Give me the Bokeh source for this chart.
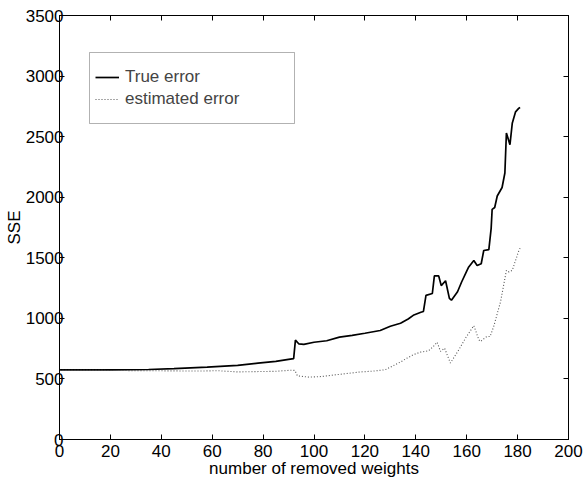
from bokeh.plotting import figure
from bokeh.models import (LinearAxis, Range1d, Legend, LegendItem, BoxAnnotation,
                          FixedTicker)
from bokeh.embed import file_html
from bokeh.resources import INLINE

# ---- data ----
removed_true = [0, 20, 35, 45, 58, 70, 78, 85, 90, 92, 92.7, 94, 96, 100, 105, 110, 115,
                120, 126, 130, 134, 137, 139, 142, 143, 144, 146.5, 147.3, 149, 150,
                151.7, 153.2, 154, 156.4, 158, 160, 160.8, 162.8, 164.1, 165.7, 166.7,
                168.7, 169.6, 170, 171, 172, 173.9, 175, 175.6, 177, 177.9, 179.2,
                180.5, 181]
sse_true = [575, 575, 578, 585, 598, 612, 630, 645, 662, 668, 820, 790, 785, 803, 815,
            845, 860, 877, 900, 935, 960, 995, 1025, 1050, 1057, 1190, 1205, 1350, 1350,
            1270, 1310, 1165, 1150, 1220, 1300, 1390, 1424, 1478, 1437, 1451, 1560,
            1568, 1740, 1900, 1915, 2010, 2080, 2200, 2530, 2434, 2610, 2705, 2735, 2740]

removed_est = [0, 20, 40, 55, 62, 70, 76, 85, 91, 92.5, 93.5, 98, 103, 108, 113, 118,
               124, 128, 131.4, 134, 136.6, 139, 141.8, 145, 147, 148.4, 149.7, 151.3,
               153.6, 156.9, 159.5, 162.8, 164.8, 165.4, 167.9, 169.2, 170.6, 173.3,
               175.6, 176.6, 177.9, 179.2, 180.5, 181]
sse_est = [572, 570, 567, 565, 568, 558, 560, 563, 572, 570, 525, 515, 520, 533, 545, 557,
           566, 576, 612, 640, 672, 700, 721, 732, 770, 803, 727, 754, 631, 740, 836, 940,
           822, 809, 850, 850, 932, 1137, 1396, 1383, 1396, 1478, 1560, 1580]

x_ticks = [0, 20, 40, 60, 80, 100, 120, 140, 160, 180, 200]
y_ticks = [0, 500, 1000, 1500, 2000, 2500, 3000, 3500]
series_labels = ["True error", "estimated error"]
x_title = "number of removed weights"
y_title = "SSE"

FONT = "Liberation Sans"
FS = "17px"

p = figure(width=585, height=480, output_backend="svg", toolbar_location=None,
           x_range=Range1d(0, 200), y_range=Range1d(0, 3500),
           min_border_left=59, min_border_right=17, min_border_top=15,
           min_border_bottom=38)
p.grid.visible = False
p.outline_line_color = "black"
p.outline_line_width = 1
p.background_fill_color = "white"
p.border_fill_color = "white"

r_true = p.line(removed_true, sse_true, line_color="black", line_width=1.7)
r_est = p.line(removed_est, sse_est, line_color="#555555", line_width=1.1,
               line_dash="1 2")


def style_axis(ax, ticks, show_labels):
    ax.ticker = FixedTicker(ticks=ticks, minor_ticks=[])
    ax.major_tick_in = 5
    ax.major_tick_out = 0
    ax.minor_tick_in = 0
    ax.minor_tick_out = 0
    ax.minor_tick_line_color = None
    ax.axis_line_color = "black"
    ax.major_tick_line_color = "black"
    ax.major_label_text_font = FONT
    ax.major_label_text_color = "black"
    ax.major_label_text_font_size = FS
    ax.axis_label_text_font = FONT
    ax.axis_label_text_font_size = FS
    ax.axis_label_text_font_style = "normal"
    ax.axis_label_text_color = "black"
    if not show_labels:
        ax.major_label_text_color = None
        ax.major_label_text_font_size = "1px"
        ax.major_label_standoff = 0
        ax.axis_label_standoff = 0


xa = p.xaxis[0]
style_axis(xa, x_ticks, True)
xa.axis_label = x_title
xa.major_label_standoff = 5
xa.axis_label_standoff = -1

ya = p.yaxis[0]
style_axis(ya, y_ticks, True)
ya.axis_label = y_title
ya.major_label_standoff = -4
ya.axis_label_standoff = -1

top_ax = LinearAxis()
style_axis(top_ax, x_ticks, False)
p.add_layout(top_ax, "above")
right_ax = LinearAxis()
style_axis(right_ax, y_ticks, False)
p.add_layout(right_ax, "right")

box = BoxAnnotation(left=30, right=235, bottom=316, top=387,
                    left_units="screen", right_units="screen",
                    bottom_units="screen", top_units="screen",
                    fill_color="white", fill_alpha=1.0,
                    line_color="black", line_width=1)
p.add_layout(box)

legend = Legend(items=[LegendItem(label=series_labels[0], renderers=[r_true]),
                       LegendItem(label=series_labels[1], renderers=[r_est])],
                location=(36, 329), padding=0, spacing=0,
                border_line_color=None, background_fill_alpha=0,
                label_height=22, glyph_height=22, glyph_width=24,
                label_standoff=6, label_text_font=FONT,
                label_text_font_size=FS)
p.add_layout(legend)

open("out.html", "w").write(file_html(p, INLINE))
